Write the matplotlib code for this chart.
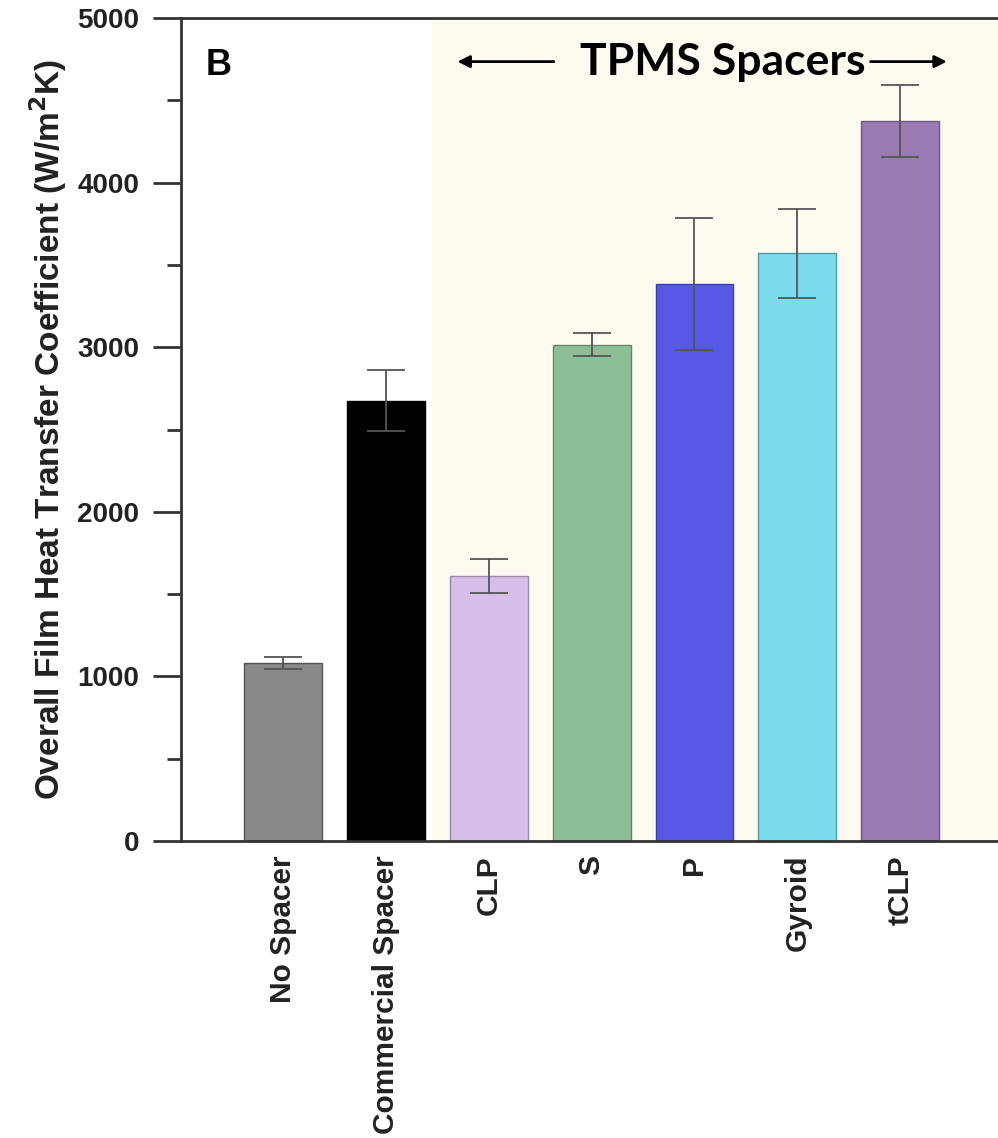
import matplotlib.pyplot as plt
import numpy as np

# bar data
categories = ['No Spacer', 'Commercial Spacer', 'CLP', 'S', 'P', 'Gyroid', 'tCLP']
values = [1080, 2675, 1610, 3015, 3385, 3570, 4375]
errors = [38, 185, 105, 70, 400, 270, 220]
colors = ['#898989', '#000000', '#d8bfea', '#8cbf96', '#5659e6', '#7cdaed', '#9a7ab2']
edges = ['#555555', '#000000', '#9a88a8', '#5f8a66', '#3a3cb0', '#4a9aab', '#6e5785']

plt.rcParams['font.family'] = ['Liberation Sans', 'DejaVu Sans']

fig = plt.figure(figsize=(9.98, 11.38), dpi=100)
ax = fig.add_axes([181/998, 297/1138, 1 - 181/998, (841 - 18)/1138])

x = np.arange(len(categories))
ax.set_xlim(-0.99, 6.95)
ax.set_ylim(0, 5000)

# TPMS region shading
ax.axvspan(1.448, 6.95, color='#fefaef', zorder=0)

ax.bar(x, values, width=0.757, color=colors, edgecolor=edges, linewidth=1, zorder=2)
ax.errorbar(x, values, yerr=errors, fmt='none', ecolor='#555555', elinewidth=1.3,
            capsize=14, capthick=1.3, zorder=3)

for s in ['left', 'bottom', 'top']:
    ax.spines[s].set_color('#333333')
    ax.spines[s].set_linewidth(2)
ax.spines['right'].set_visible(False)

ax.set_yticks([0, 1000, 2000, 3000, 4000, 5000])
ax.set_yticks(np.arange(500, 5000, 1000), minor=True)
ax.tick_params(axis='y', which='major', direction='out', length=20, width=2,
               color='#333333', labelsize=20, pad=10)
ax.tick_params(axis='y', which='minor', direction='out', length=10, width=2, color='#333333')
for lab in ax.get_yticklabels():
    lab.set_fontweight('bold')
    lab.set_color('#222222')

ax.set_xticks(x)
ax.set_xticklabels(categories, rotation=90, fontsize=21.5, fontweight='bold', color='#222222')
ax.tick_params(axis='x', length=0, pad=10)

ax.set_ylabel('Overall Film Heat Transfer Coefficient (W/m$^\\mathbf{2}$K)',
              fontsize=24, fontweight='bold', color='#222222', labelpad=6)

ax.text(0.03, 0.963, 'B', transform=ax.transAxes, fontsize=26, fontweight='bold',
        va='top', ha='left')

ax.text(4.276, 4730, 'TPMS Spacers', fontsize=32, fontweight='bold', family=['Lato', 'DejaVu Sans'],
        ha='center', va='center')
ax.annotate('', xy=(1.67, 4735), xytext=(2.66, 4735),
            arrowprops=dict(arrowstyle='-|>', color='black', lw=2, mutation_scale=18))
ax.annotate('', xy=(6.48, 4735), xytext=(5.685, 4735),
            arrowprops=dict(arrowstyle='-|>', color='black', lw=2, mutation_scale=18))

fig.savefig('out.png', dpi=100)
